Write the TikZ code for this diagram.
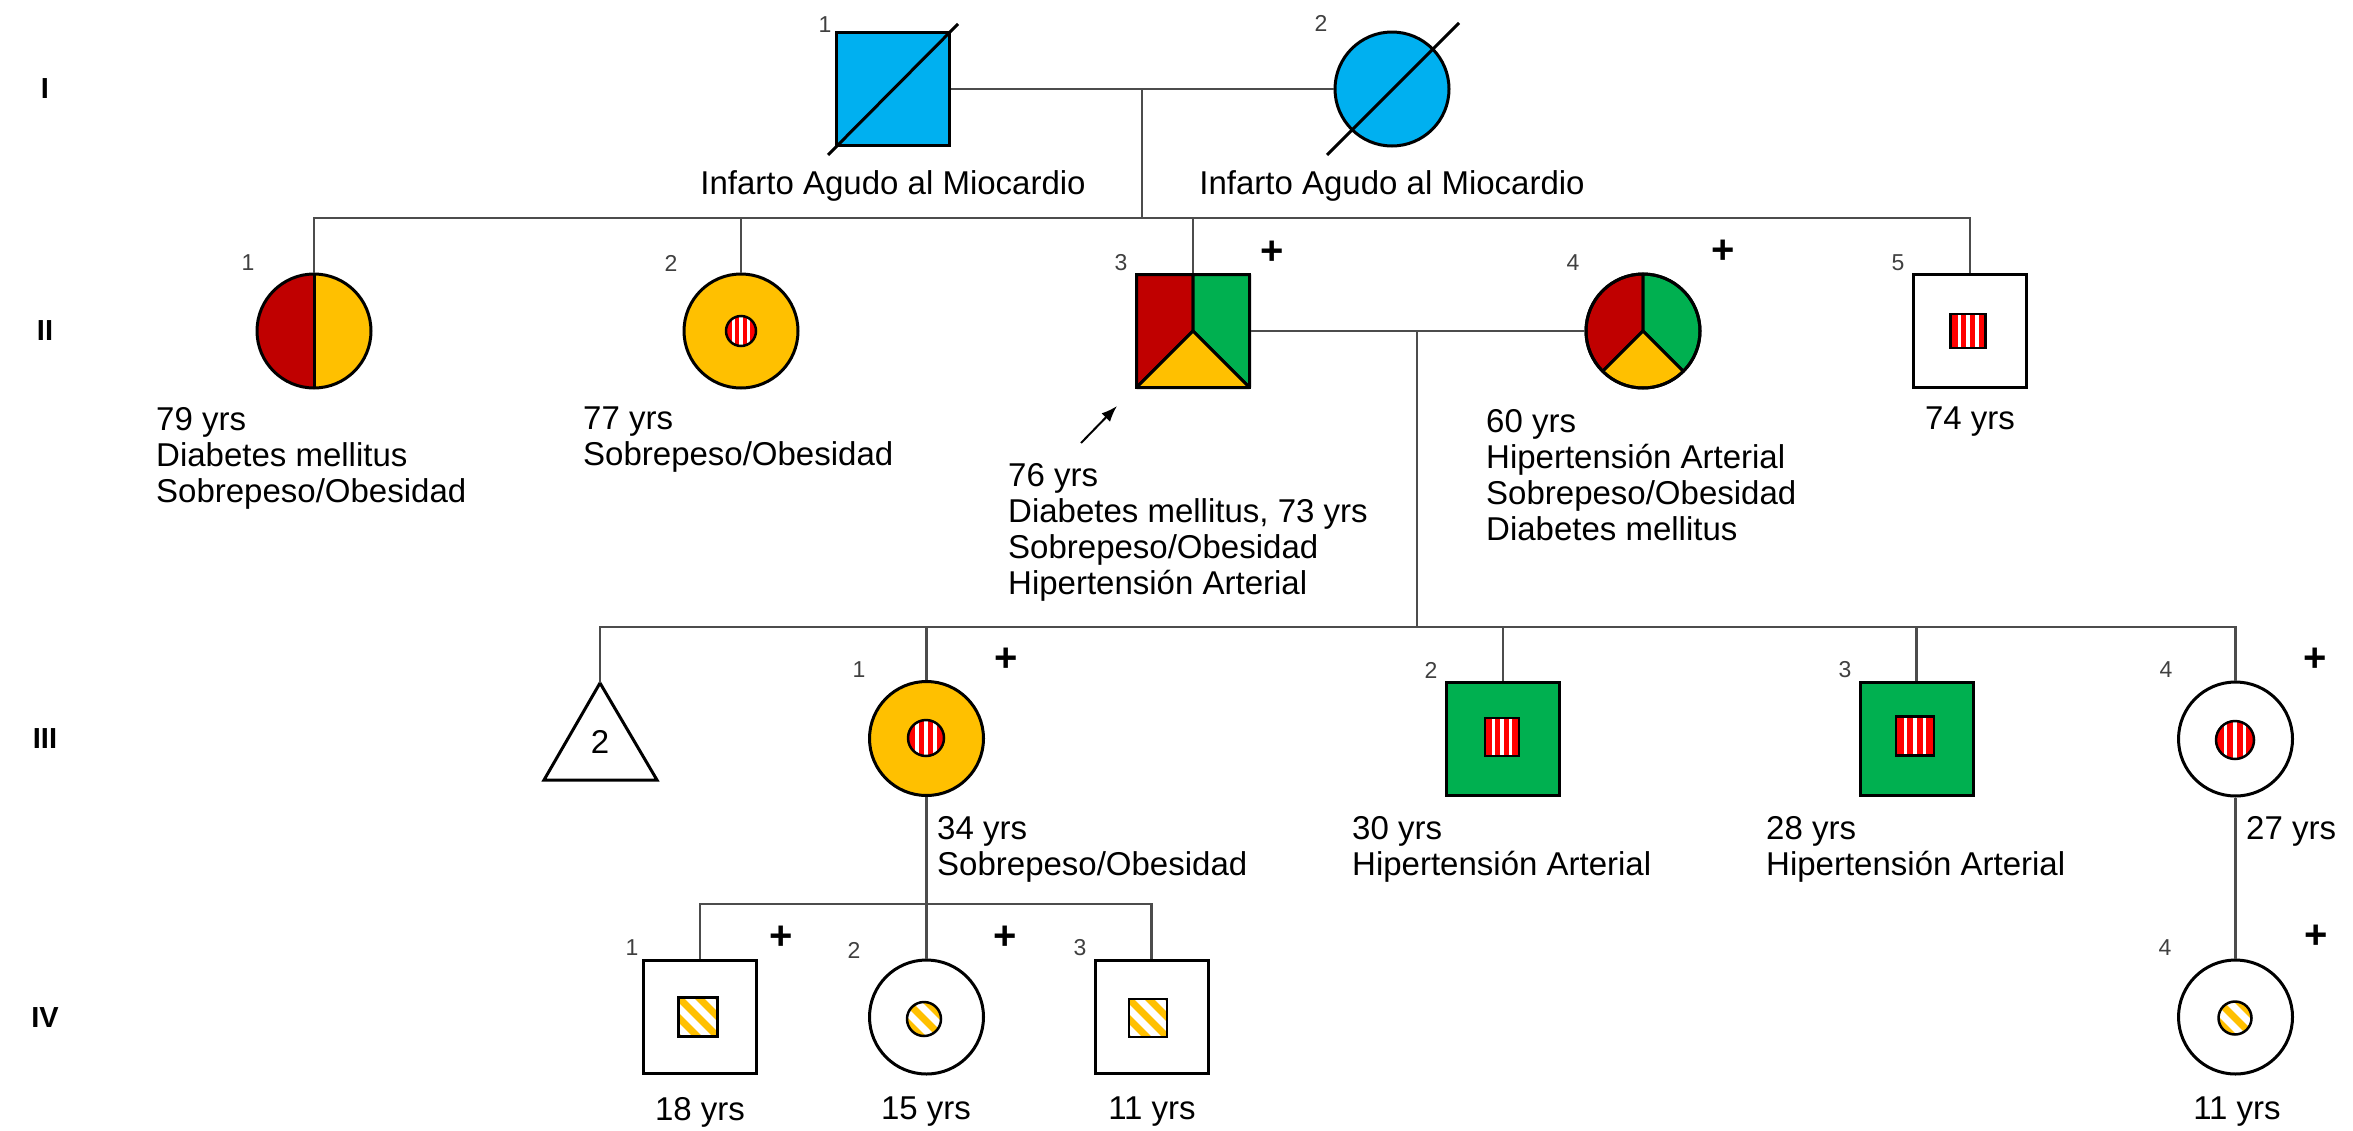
\documentclass[tikz,border=0pt]{standalone}
\usepackage{fontspec}
\setmainfont{Liberation Sans}
\usetikzlibrary{arrows.meta}
\definecolor{sky}{HTML}{00B0F0}
\definecolor{dred}{HTML}{C00000}
\definecolor{gold}{HTML}{FFC000}
\definecolor{leaf}{HTML}{00B050}
\definecolor{stripe}{HTML}{FF0000}
\definecolor{numgray}{HTML}{404040}

% red box with three white vertical bars: cx cy w h
\newcommand\barsquare[4]{%
  \begin{scope}
    \clip ({#1-#3/2},{#2-#4/2}) rectangle ({#1+#3/2},{#2+#4/2});
    \fill[stripe] ({#1-#3/2},{#2-#4/2}) rectangle ({#1+#3/2},{#2+#4/2});
    \foreach \f in {-0.25,0,0.25}
      \draw[white,line width=3.5pt] ({#1+\f*#3},{#2-#4/2}) -- ({#1+\f*#3},{#2+#4/2});
  \end{scope}
  \draw[line width=2.5pt] ({#1-#3/2},{#2-#4/2}) rectangle ({#1+#3/2},{#2+#4/2});}
% red disc with three white vertical bars: cx cy r
\newcommand\barcircle[3]{%
  \begin{scope}
    \clip (#1,#2) circle[radius=#3];
    \fill[stripe] ({#1-#3},{#2-#3}) rectangle ({#1+#3},{#2+#3});
    \foreach \f in {-0.5,0,0.5}
      \draw[white,line width=3.5pt] ({#1+\f*#3},{#2-#3}) -- ({#1+\f*#3},{#2+#3});
  \end{scope}
  \draw[line width=2.5pt] (#1,#2) circle[radius=#3];}
% white box with yellow diagonal bands: cx cy size
\newcommand\hatchsquare[3]{%
  \begin{scope}
    \clip ({#1-#3/2},{#2-#3/2}) rectangle ({#1+#3/2},{#2+#3/2});
    \foreach \o in {-40,-20,0,20,40}
      \draw[gold,line width=7pt] ({#1+\o-30},{#2-30}) -- ({#1+\o+30},{#2+30});
  \end{scope}
  \draw[line width=2.5pt] ({#1-#3/2},{#2-#3/2}) rectangle ({#1+#3/2},{#2+#3/2});}
% white disc with yellow diagonal bands: cx cy r
\newcommand\hatchcircle[3]{%
  \begin{scope}
    \clip (#1,#2) circle[radius=#3];
    \foreach \o in {-40,-20,0,20,40}
      \draw[gold,line width=7pt] ({#1+\o-30},{#2-30}) -- ({#1+\o+30},{#2+30});
  \end{scope}
  \draw[line width=2.5pt] (#1,#2) circle[radius=#3];}

\begin{document}
\begin{tikzpicture}[x=1pt,y=-1pt,
  male/.style={rectangle,draw=black,line width=3pt,minimum size=113pt,inner sep=0pt},
  female/.style={circle,draw=black,line width=3pt,minimum size=114pt,inner sep=0pt},
  sym/.style={draw=black,line width=3pt,line join=round},
  conn/.style={draw=black!70,line width=2.2pt},
  txt/.style={font=\fontsize{33}{36}\selectfont,align=left,anchor=north west,inner sep=0pt,text=black},
  num/.style={font=\fontsize{23}{25}\selectfont,text=numgray,inner sep=0pt},
  plus/.style={font=\fontsize{40}{42}\selectfont\bfseries,inner sep=0pt},
  gen/.style={font=\fontsize{29}{31}\selectfont\bfseries,inner sep=0pt},
  proband/.style={draw=black,line width=2pt,-{Latex[length=16pt,width=12pt]}}]
\useasboundingbox (0,0) rectangle (2353,1130);
\fill[white] (0,0) rectangle (2353,1130);

% generation labels
\node[gen] (gI) at (45,89) {I};
\node[gen] (gII) at (45,331) {II};
\node[gen] (gIII) at (45,739) {III};
\node[gen] (gIV) at (45,1018) {IV};

% ---------- generation I ----------
\node[male,fill=sky] (I1) at (893,89) {};
\node[female,fill=sky] (I2) at (1392,89) {};
\draw[sym] (828,155) -- (958,24);
\draw[sym] (1327,155) -- (1459,23);
\coordinate (mI) at (1142,89);
\draw[conn] (I1.east) -- (I2.west);
\node[num] (nI1) at (825,25) {1};
\node[num] (nI2) at (1321,23) {2};
\node[txt,anchor=north] (tI1) at (893,170) {Infarto Agudo al Miocardio};
\node[txt,anchor=north] (tI2) at (1392,170) {Infarto Agudo al Miocardio};

% ---------- generation II ----------
\coordinate (sII) at (1142,218);
\draw[conn] (mI) -- (sII);

% II-1
\fill[dred] (314,274) arc[start angle=270,end angle=90,radius=57] -- cycle;
\fill[gold] (314,274) arc[start angle=-90,end angle=90,radius=57] -- cycle;
\node[female] (II1) at (314,331) {};
\draw[sym] (314,274) -- (314,388);

% II-2
\node[female,fill=gold] (II2) at (741,331) {};
\barcircle{741}{331}{15}

% II-3
\filldraw[sym,fill=dred] (1136.5,274.5) -- (1193,274.5) -- (1193,331) -- (1136.5,387.5) -- cycle;
\filldraw[sym,fill=leaf] (1193,274.5) -- (1249.5,274.5) -- (1249.5,387.5) -- (1193,331) -- cycle;
\filldraw[sym,fill=gold] (1193,331) -- (1249.5,387.5) -- (1136.5,387.5) -- cycle;
\node[male] (II3) at (1193,331) {};

% II-4
\filldraw[sym,fill=dred] (1643,331) -- ++(135:57) arc[start angle=135,end angle=270,radius=57] -- cycle;
\filldraw[sym,fill=leaf] (1643,331) -- ++(270:57) arc[start angle=270,end angle=405,radius=57] -- cycle;
\filldraw[sym,fill=gold] (1643,331) -- ++(45:57) arc[start angle=45,end angle=135,radius=57] -- cycle;
\node[female] (II4) at (1643,331) {};

% II-5
\node[male] (II5) at (1970,331) {};
\barsquare{1968}{331}{35}{34}

\draw[conn] (II1.north) |- (sII) -| (II5.north);
\draw[conn] (II2.north) -- (II2.north |- sII);
\draw[conn] (II3.north) -- (II3.north |- sII);
\draw[conn] (II3.east) -- (II4.west);
\coordinate (mII) at (1417,331);
\coordinate (sIII) at (1417,627);
\draw[conn] (mII) -- (sIII);

\node[num] (nII1) at (248,263) {1};
\node[num] (nII2) at (671,263) {2};
\node[num] (nII3) at (1121,263) {3};
\node[num] (nII4) at (1573,263) {4};
\node[num] (nII5) at (1898,263) {5};
\node[plus] (pII3) at (1272,253) {+};
\node[plus] (pII4) at (1723,252) {+};

\coordinate (arrS) at (1081,443);
\coordinate (arrE) at (1117,406);
\draw[proband] (arrS) -- (arrE);

\node[txt] (tII1) at (156,407) {79 yrs\\Diabetes mellitus\\Sobrepeso/Obesidad};
\node[txt] (tII2) at (583,407) {77 yrs\\Sobrepeso/Obesidad};
\node[txt] (tII3) at (1008,463) {76 yrs\\Diabetes mellitus, 73 yrs\\Sobrepeso/Obesidad\\Hipertensión Arterial};
\node[txt] (tII4) at (1486,409) {60 yrs\\Hipertensión Arterial\\Sobrepeso/Obesidad\\Diabetes mellitus};
\node[txt,anchor=north] (tII5) at (1970,407) {74 yrs};

% ---------- generation III ----------
\coordinate (IIItop) at (600,683);
\draw[sym,line join=miter] (IIItop) -- (657,780) -- (544,780) -- cycle;
\node[font=\fontsize{33}{36}\selectfont,inner sep=0pt] (III0) at (600,742) {2};

\node[female,fill=gold] (III1) at (926.5,738.5) {};
\barcircle{926}{738}{18}
\node[male,fill=leaf] (III2) at (1503,739) {};
\barsquare{1502}{737}{34}{38}
\node[male,fill=leaf] (III3) at (1916.5,739) {};
\barsquare{1915}{736}{38}{39}
\node[female] (III4) at (2235.5,739) {};
\barcircle{2235}{740}{19}

\draw[conn] (IIItop) |- (sIII) -| (III4.north);
\draw[conn] (III1.north) -- (III1.north |- sIII);
\draw[conn] (III2.north) -- (III2.north |- sIII);
\draw[conn] (III3.north) -- (III3.north |- sIII);

\node[num] (nIII1) at (859,670) {1};
\node[num] (nIII2) at (1431,670) {2};
\node[num] (nIII3) at (1845,670) {3};
\node[num] (nIII4) at (2166,670) {4};
\node[plus] (pIII1) at (1006,660) {+};
\node[plus] (pIII4) at (2315,660) {+};

\node[txt] (tIII1) at (937,816) {34 yrs\\Sobrepeso/Obesidad};
\node[txt] (tIII2) at (1352,816) {30 yrs\\Hipertensión Arterial};
\node[txt] (tIII3) at (1766,816) {28 yrs\\Hipertensión Arterial};
\node[txt] (tIII4) at (2246,816) {27 yrs};

% ---------- generation IV ----------
\node[male] (IV1) at (700,1017) {};
\hatchsquare{698}{1017}{39}
\node[female] (IV2) at (926.5,1017) {};
\hatchcircle{924}{1019}{17}
\node[male] (IV3) at (1151.5,1017) {};
\hatchsquare{1148}{1018}{38}
\node[female] (IV4) at (2235.5,1017) {};
\hatchcircle{2235}{1018}{16.5}

\coordinate (sIV) at (926.5,904);
\draw[conn] (III1.south) -- (IV2.north);
\draw[conn] (IV1.north) |- (sIV) -| (IV3.north);
\draw[conn] (III4.south) -- (IV4.north);

\node[num] (nIV1) at (632,948) {1};
\node[num] (nIV2) at (854,950) {2};
\node[num] (nIV3) at (1080,948) {3};
\node[num] (nIV4) at (2165,948) {4};
\node[plus] (pIV1) at (781,938) {+};
\node[plus] (pIV2) at (1005,938) {+};
\node[plus] (pIV4) at (2316,937) {+};

\node[txt,anchor=north] (tIV1) at (700,1097) {18 yrs};
\node[txt,anchor=north] (tIV2) at (926,1097) {15 yrs};
\node[txt,anchor=north] (tIV3) at (1152,1097) {11 yrs};
\node[txt,anchor=north] (tIV4) at (2237,1097) {11 yrs};
\end{tikzpicture}
\end{document}
